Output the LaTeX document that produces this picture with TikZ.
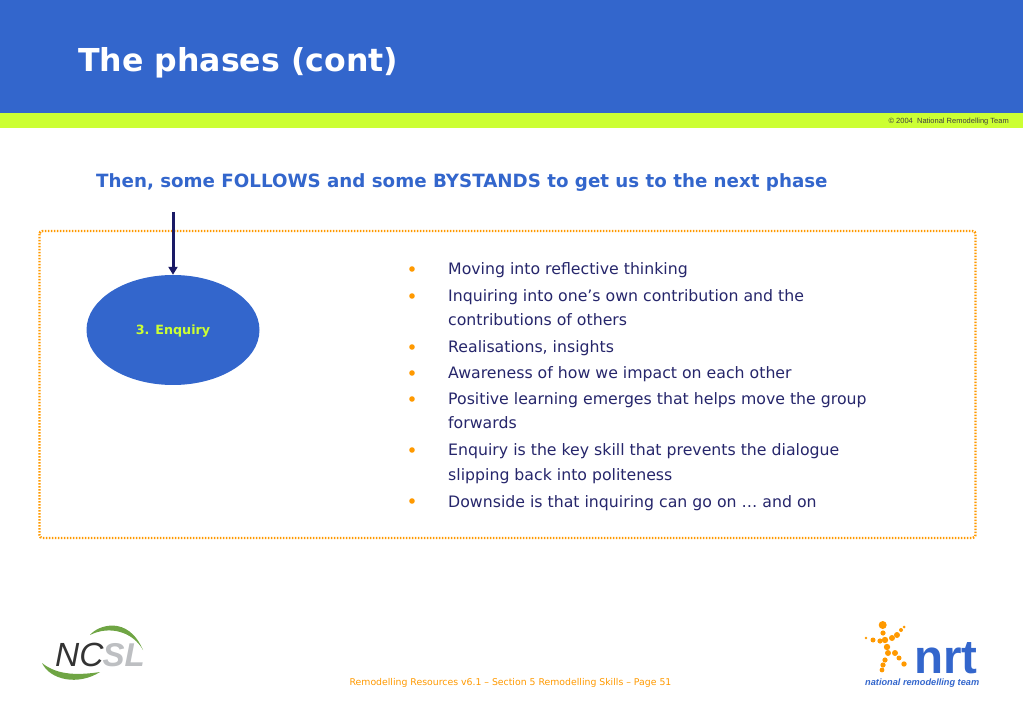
\documentclass[tikz,border=0pt]{standalone}
\usepackage{fontspec}
\setmainfont{DejaVu Sans}
\newfontfamily\arialf{Liberation Sans}
\definecolor{hdrblue}{HTML}{3366CC}
\definecolor{lime}{HTML}{CCFF33}
\definecolor{orng}{HTML}{FF9900}
\definecolor{navy}{HTML}{1A1A66}
\definecolor{bodyc}{HTML}{26266B}
\definecolor{ncgreen}{HTML}{6FA544}
\definecolor{ncgrey}{HTML}{BDBFC2}
\usetikzlibrary{arrows.meta,shapes.geometric}
\tikzset{
 bullettext/.style={anchor=base west,inner sep=0,font=\fontsize{15.74}{16}\selectfont,text=bodyc},
 bulletdot/.style={circle,fill=orng,minimum size=5.6pt,inner sep=0}
}
\begin{document}
\begin{tikzpicture}[x=1pt,y=-1pt]
\useasboundingbox (0,0) rectangle (1023,708);
\fill[hdrblue] (0,0) rectangle (1023,113);
\fill[lime] (0,113) rectangle (1023,128);
\node[anchor=base west,inner sep=0,text=white,font=\fontsize{31.6}{32}\selectfont\bfseries] (title) at (78,72) {The phases (cont)};
\node[anchor=base east,inner sep=0,text=black!75,font=\arialf\fontsize{7.5}{7.5}\selectfont] (copy) at (1009,124) {© 2004~ National Remodelling Team};
\node[anchor=base west,inner sep=0,text=hdrblue,font=\fontsize{18.25}{18}\selectfont\bfseries] (sub) at (96,188) {Then, some FOLLOWS and some BYSTANDS to get us to the next phase};
\draw[orng,line width=2.4pt,line cap=butt,dash pattern=on 1.5pt off 1.5pt,rounded corners=3pt] (39.5,231) rectangle (975.5,538);
\node[ellipse,fill=hdrblue,minimum width=173pt,minimum height=110pt,inner sep=0] (enq) at (173,330) {};
\node[text=lime,font=\fontsize{12.7}{13}\selectfont\bfseries,inner sep=0] (enql) at (173,331) {3. Enquiry};
\coordinate (top) at (173,212);
\draw[navy,line width=3pt,-{Triangle[length=8pt,width=9pt]}] (top) -- (enq.north);
\foreach \n/\y/\t in {a/275/Moving into reflective thinking,b/302/Inquiring into one’s own contribution and the,c/326/contributions of others,d/353/{Realisations, insights},e/379/Awareness of how we impact on each other,f/405/Positive learning emerges that helps move the group,g/429/forwards,h/456/Enquiry is the key skill that prevents the dialogue,i/480/slipping back into politeness,j/507/Downside is that inquiring can go on … and on}
  \node[bullettext] (\n) at (448,\y) {\t};
\foreach \n/\y in {a/269,b/296,d/347,e/373,f/399,h/450,j/501}
  \node[bulletdot] (b\n) at (412,\y) {};
\node[anchor=base,inner sep=0,text=orng,font=\fontsize{9.33}{10}\selectfont] (foot) at (510.5,685) {Remodelling Resources v6.1 – Section 5 Remodelling Skills – Page 51};
% NCSL logo
\fill[ncgreen] (90,635) .. controls (98,625) and (128,615) .. (143,650) .. controls (133,632) and (110,625) .. (90,635) -- cycle;
\fill[ncgreen] (42,663) .. controls (50,680) and (78,686) .. (100,672) .. controls (80,675) and (58,676) .. (42,663) -- cycle;
\node[anchor=base west,inner sep=0,text=black!80,font=\arialf\fontsize{33.5}{34}\selectfont\itshape] (nc) at (55,666) {NC};
\node[anchor=base west,inner sep=0,text=ncgrey,font=\arialf\fontsize{33}{33}\selectfont\bfseries\itshape] (sl) at (102.5,666) {SL};
% nrt logo
\foreach \x/\y/\r in {882.7/625/4,883/633/2.6,885/640/3.2,887/647/3.2,888/653/3,885/660/2.6,883/665/2.6,882/670/2.4,866/638/1.3,873/640/2.5,880/641/2.6,904/627/1.5,901/630/2,897/635/3,892/638/3,895/653/3,899/658/2.5,904/664/2.7}
  \fill[orng] (\x,\y) circle (\r);
\node[anchor=base west,inner sep=0,text=hdrblue,font=\arialf\fontsize{47.5}{48}\selectfont\bfseries] (nrt) at (914,673) {nrt};
\node[anchor=base west,inner sep=0,text=hdrblue,font=\arialf\fontsize{9.2}{10}\selectfont\bfseries\itshape] (nrtl) at (865,685.5) {national remodelling team};
\end{tikzpicture}
\end{document}
